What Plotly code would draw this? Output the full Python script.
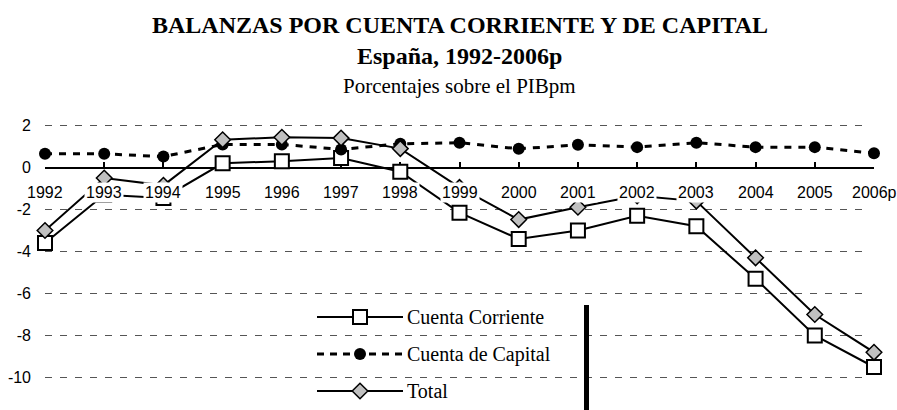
import plotly.graph_objects as go

# ---------------- data ----------------
years = ["1992", "1993", "1994", "1995", "1996", "1997", "1998", "1999",
         "2000", "2001", "2002", "2003", "2004", "2005", "2006p"]
cuenta_corriente = [-3.6, -1.3, -1.45, 0.2, 0.3, 0.45, -0.2, -2.15,
                    -3.4, -3.0, -2.3, -2.8, -5.3, -8.0, -9.5]
cuenta_capital = [0.65, 0.65, 0.52, 1.1, 1.1, 0.86, 1.13, 1.18,
                  0.89, 1.08, 0.97, 1.18, 0.97, 0.97, 0.68]
total = [-3.0, -0.5, -0.85, 1.32, 1.44, 1.4, 0.9, -0.95,
         -2.48, -1.89, -1.35, -1.6, -4.3, -7.0, -8.8]
series_names = ["Cuenta Corriente", "Cuenta de Capital", "Total"]
y_tick_vals = [2, 0, -2, -4, -6, -8, -10]
y_tick_text = ["2", "0", "-2", "-4", "-6", "-8", "-10"]
grid_vals = [2, -2, -4, -6, -8, -10]
title_lines = ["BALANZAS POR CUENTA CORRIENTE Y DE CAPITAL",
               "España, 1992-2006p",
               "Porcentajes sobre el PIBpm"]

# ---------------- layout geometry ----------------
WIDTH, HEIGHT = 897, 410
L, R, T, B = 45, 23, 115, 1
W = WIDTH - L - R
H = HEIGHT - T - B
Y_RANGE = [-11.5, 2.5]

def px_x(p):
    return (p - L) / W

def px_y(p):
    return (HEIGHT - B - p) / H

SERIF = "Liberation Serif, Times New Roman, serif"
SANS = "Liberation Sans, Arial, sans-serif"

xs = list(range(len(years)))

fig = go.Figure()

# main series
fig.add_trace(go.Scatter(
    x=xs, y=cuenta_corriente, mode="lines+markers", name=series_names[0],
    line=dict(color="black", width=2),
    marker=dict(symbol="square", size=14, color="white",
                line=dict(color="black", width=2)),
    cliponaxis=False, hoverinfo="skip"))
fig.add_trace(go.Scatter(
    x=xs, y=cuenta_capital, mode="lines+markers", name=series_names[1],
    line=dict(color="black", width=3, dash="7px,7px"),
    marker=dict(symbol="circle", size=12, color="black"),
    cliponaxis=False, hoverinfo="skip"))
fig.add_trace(go.Scatter(
    x=xs, y=total, mode="lines+markers", name=series_names[2],
    line=dict(color="black", width=2),
    marker=dict(symbol="diamond", size=12, color="#c0c0c0",
                line=dict(color="black", width=1.5)),
    cliponaxis=False, hoverinfo="skip"))

# ---------------- custom legend ----------------
legend_rows = [317, 354, 391]
legend_styles = [
    dict(symbol="square", size=14, color="white", line=dict(color="black", width=2)),
    dict(symbol="circle", size=12, color="black"),
    dict(symbol="diamond", size=12, color="#c0c0c0", line=dict(color="black", width=1.5)),
]
legend_dash = ["solid", "7px,6px", "solid"]
legend_width = [2, 3, 2]

shapes = []
# dashed gridlines
for v in grid_vals:
    shapes.append(dict(type="line", xref="x", yref="y", x0=0, x1=13.9, y0=v, y1=v,
                       line=dict(color="#555555", width=1, dash="7px,8px"),
                       layer="below"))
# white legend box
shapes.append(dict(type="rect", xref="paper", yref="paper",
                   x0=px_x(284), x1=px_x(589), y0=px_y(410), y1=px_y(299),
                   fillcolor="white", line=dict(width=0), layer="below"))
# thick bar at right of legend box
shapes.append(dict(type="line", xref="paper", yref="paper",
                   x0=px_x(586.5), x1=px_x(586.5), y0=px_y(305), y1=px_y(412),
                   line=dict(color="black", width=5), layer="above"))
for i, row in enumerate(legend_rows):
    shapes.append(dict(type="line", xref="paper", yref="paper",
                       x0=px_x(317), x1=px_x(403), y0=px_y(row), y1=px_y(row),
                       line=dict(color="black", width=legend_width[i], dash=legend_dash[i]),
                       layer="below"))
    fig.add_trace(go.Scatter(
        x=[px_x(360)], y=[px_y(row)], mode="markers", xaxis="x2", yaxis="y2",
        marker=legend_styles[i], cliponaxis=False, hoverinfo="skip"))

annotations = []
for i, row in enumerate(legend_rows):
    annotations.append(dict(xref="paper", yref="paper", x=px_x(405), y=px_y(row),
                            xanchor="left", yanchor="middle", text=series_names[i],
                            showarrow=False, font=dict(family=SERIF, size=20, color="black")))

# category labels with white background (cover lines like original)
for i, yr in enumerate(years):
    annotations.append(dict(xref="x", yref="y", x=i, y=0, yshift=-25,
                            xanchor="center", yanchor="middle", text=yr,
                            showarrow=False, bgcolor="white", borderpad=1,
                            font=dict(family=SANS, size=16, color="black")))

# titles
annotations.append(dict(xref="paper", yref="paper", x=0.5, y=px_y(25.5),
                        xanchor="center", yanchor="middle", text="<b>%s</b>" % title_lines[0],
                        showarrow=False, font=dict(family=SERIF, size=24, color="black")))
annotations.append(dict(xref="paper", yref="paper", x=0.5, y=px_y(56),
                        xanchor="center", yanchor="middle", text="<b>%s</b>" % title_lines[1],
                        showarrow=False, font=dict(family=SERIF, size=24, color="black")))
annotations.append(dict(xref="paper", yref="paper", x=0.5, y=px_y(86),
                        xanchor="center", yanchor="middle", text=title_lines[2],
                        showarrow=False, font=dict(family=SERIF, size=21, color="black")))

zero_pos = (0 - Y_RANGE[0]) / (Y_RANGE[1] - Y_RANGE[0])

fig.update_layout(
    width=WIDTH, height=HEIGHT,
    margin=dict(l=L, r=R, t=T, b=B),
    paper_bgcolor="white", plot_bgcolor="white",
    showlegend=False,
    shapes=shapes, annotations=annotations,
    xaxis=dict(range=[0, len(years) - 1], tickvals=xs, showticklabels=False,
               showgrid=False, zeroline=False, showline=True, linecolor="black",
               linewidth=2, ticks="inside", ticklen=5, tickwidth=2, tickcolor="black",
               anchor="free", position=zero_pos, layer="below traces"),
    yaxis=dict(range=Y_RANGE, tickvals=y_tick_vals, ticktext=y_tick_text,
               showgrid=False, zeroline=False, showline=False, ticks="",
               ticklabelstandoff=13,
               tickfont=dict(family=SANS, size=16, color="black")),
    xaxis2=dict(range=[0, 1], overlaying="x", visible=False),
    yaxis2=dict(range=[0, 1], overlaying="y", visible=False),
)

fig.write_html("out.html", config={"displayModeBar": False},
               post_script="document.body.style.margin='0';document.body.style.overflow='hidden';")
